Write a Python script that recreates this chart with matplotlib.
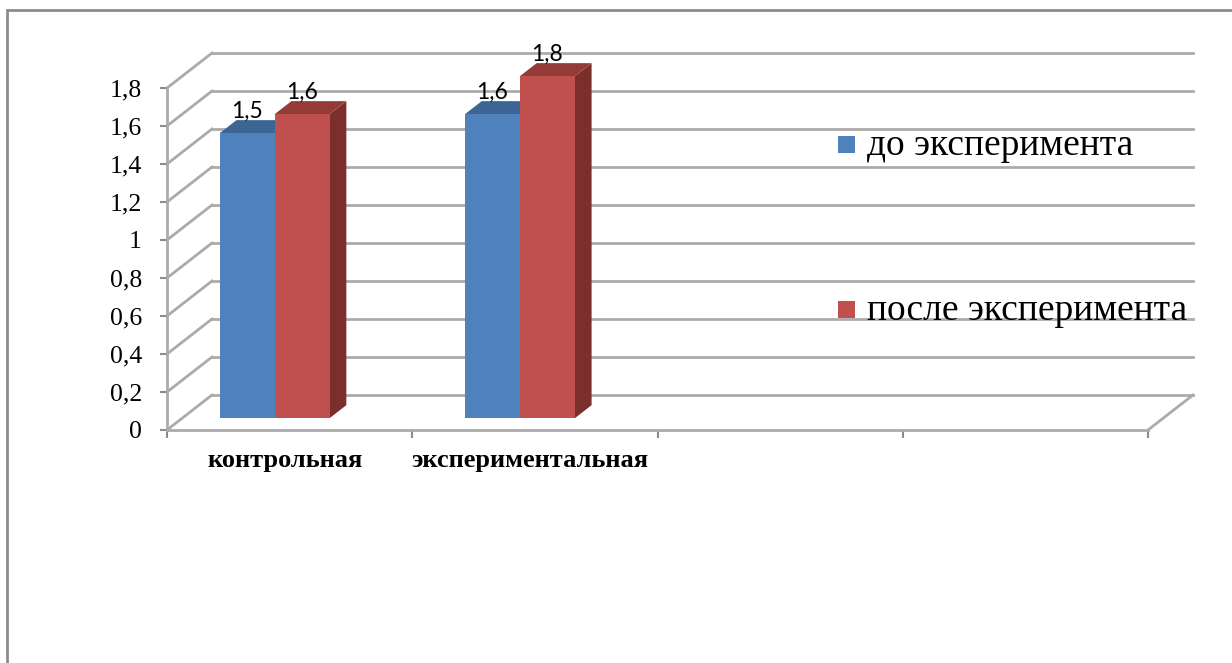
import matplotlib.pyplot as plt
from matplotlib.patches import Rectangle, Polygon
import numpy as np

# data
categories = ['контрольная', 'экспериментальная', '', '']
series_names = ['до эксперимента', 'после эксперимента']
before = [1.5, 1.6]
after = [1.6, 1.8]
value_labels = [['1,5', '1,6'], ['1,6', '1,8']]
y_ticks = [0, 0.2, 0.4, 0.6, 0.8, 1, 1.2, 1.4, 1.6, 1.8]
y_tick_labels = ['0', '0,2', '0,4', '0,6', '0,8', '1', '1,2', '1,4', '1,6', '1,8']

front_col = ['#4F81BD', '#C0504D']
top_col = ['#3C6596', '#943B38']
side_col = ['#2F5079', '#7A2F2D']
grid_col = '#ABABAB'

W, H = 1232, 663
fig = plt.figure(figsize=(W / 100, H / 100), dpi=100)
ax = fig.add_axes([167 / W, (H - 430) / H, 981 / W, 342 / H])
ax.set_xlim(0, 4)
ax.set_ylim(0, 1.8)

# fake 3d: depth vector in data units
DX, DY = 45 / 245.25, 35 / 190
f0, fd = 0.34, 0.37      # bar front depth and bar depth (fraction of floor)
bw = 0.224               # bar width in category units
goff = 0.377             # group centre inside a category slot

# back wall gridlines + left wall diagonals
for v in y_ticks:
    ax.plot([DX, 4 + DX], [v + DY, v + DY], color=grid_col, lw=2, clip_on=False, zorder=1)
    ax.plot([0, DX], [v, v + DY], color=grid_col, lw=2, clip_on=False, zorder=1)
ax.plot([4, 4 + DX], [0, DY], color=grid_col, lw=2, clip_on=False, zorder=1)

# bars
for i in range(len(before)):
    vals = [before[i], after[i]]
    for j, v in enumerate(vals):
        xl = i + goff - bw + j * bw + f0 * DX
        yb = f0 * DY
        ddx, ddy = fd * DX, fd * DY
        ax.add_patch(Polygon([(xl + bw, yb), (xl + bw, yb + v), (xl + bw + ddx, yb + v + ddy),
                              (xl + bw + ddx, yb + ddy)], closed=True, fc=side_col[j], ec='none',
                             zorder=3, clip_on=False))
        ax.add_patch(Polygon([(xl, yb + v), (xl + bw, yb + v), (xl + bw + ddx, yb + v + ddy),
                              (xl + ddx, yb + v + ddy)], closed=True, fc=top_col[j], ec='none',
                             zorder=3, clip_on=False))
        ax.add_patch(Rectangle((xl, yb), bw, v, fc=front_col[j], ec='none', zorder=3, clip_on=False))
        ax.text(xl + bw / 2, yb + v + ddy + 0.012, value_labels[i][j], ha='center', va='baseline',
                fontsize=16.5, family='Lato', zorder=4, clip_on=False)

# axes look
for s in ['top', 'right']:
    ax.spines[s].set_visible(False)
for s in ['left', 'bottom']:
    ax.spines[s].set_color(grid_col)
    ax.spines[s].set_linewidth(2)
ax.set_yticks(y_ticks)
ax.set_yticklabels(y_tick_labels, family='Liberation Serif', fontsize=18.5)
ax.tick_params(axis='y', length=5, width=1.5, color='#8C8C8C', pad=13)
ax.set_xticks(range(5))
ax.set_xticklabels([])
ax.tick_params(axis='x', which='major', length=6, width=1.5, color='#8C8C8C')
ax.set_xticks([k + 0.48 for k in range(4)], minor=True)
ax.set_xticklabels(categories, minor=True, family='Liberation Serif', fontweight='bold', fontsize=19)
ax.tick_params(axis='x', which='minor', length=0, pad=14)

# legend
for j, name in enumerate(series_names):
    base = [0.804, 0.3216][j]
    ax.add_patch(Rectangle((0.684, base + 0.006), 0.0173, 0.05, transform=ax.transAxes,
                           fc=front_col[j], ec='none', clip_on=False, zorder=5))
    ax.text(0.7136, base, name, transform=ax.transAxes, fontsize=27, family='Liberation Serif',
            va='baseline', ha='left', zorder=5)

# chart border
fig.add_artist(Rectangle((7 / W, -0.1), 1.2, 1.1 - 10 / H, transform=fig.transFigure,
                         fill=False, ec='#8C8C8C', lw=2))

fig.savefig('out.png', dpi=100)
